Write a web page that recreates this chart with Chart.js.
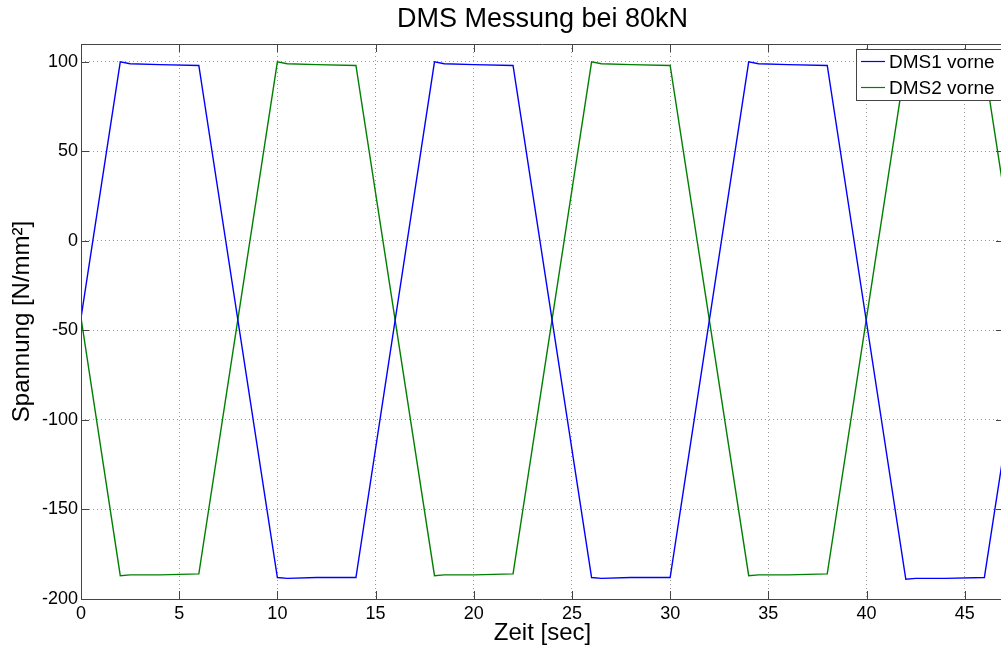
<!DOCTYPE html>
<html>
<head>
<meta charset="utf-8">
<script src="https://cdn.jsdelivr.net/npm/chart.js@4"></script>
<style>
  html, body { margin: 0; padding: 0; background: #fff; overflow: hidden; }
  #wrap { width: 1004px; height: 650px; }
</style>
</head>
<body>
<div id="wrap"><canvas id="myChart" width="1004" height="650"></canvas></div>
<script>
// Zeit in Sekunden
const zeit = [0, 2, 2.5, 4, 6, 10, 10.5, 12, 14, 18, 18.5, 20, 22, 26, 26.5, 28, 30, 34, 34.5, 36, 38, 42, 42.5, 44, 46, 46.9];
// Spannung in N/mm²
const dms1 = [-43, 100, 99, 98.5, 98, -188, -188.5, -188, -188, 100, 99, 98.5, 98, -188, -188.5, -188, -188, 100, 99, 98.5, 98, -189, -188.5, -188.5, -188, -124];
const dms2 = [-43, -187, -186.5, -186.5, -186, 100, 99, 98.5, 98, -187, -186.5, -186.5, -186, 100, 99, 98.5, 98, -187, -186.5, -186.5, -186, 100, 99, 98.5, 98, 34];
const xTicks = [0, 5, 10, 15, 20, 25, 30, 35, 40, 45];
const yTicks = [-200, -150, -100, -50, 0, 50, 100];
const titel = 'DMS Messung bei 80kN';

const schrift = 'Liberation Sans, Arial, Helvetica, sans-serif';

// Titel über der Achsenfläche, Rahmen, Ticks nach innen und Legende im MATLAB-Stil
const matlabRahmen = {
    id: 'matlabRahmen',
    afterDraw(chart) {
        const ctx = chart.ctx;
        const a = chart.chartArea;
        const sx = chart.scales.x, sy = chart.scales.y;
        ctx.save();

        ctx.fillStyle = '#000';
        ctx.font = '27px ' + schrift;
        ctx.textAlign = 'center';
        ctx.textBaseline = 'middle';
        ctx.fillText(titel, (a.left + a.right) / 2, 20);
        ctx.textAlign = 'left';

        ctx.strokeStyle = '#444';
        ctx.lineWidth = 1;
        ctx.beginPath();
        ctx.rect(Math.round(a.left) + 0.5, Math.round(a.top) + 0.5, Math.round(a.right - a.left) - 1, Math.round(a.bottom - a.top));
        const tl = 8;
        xTicks.forEach(v => {
            const px = Math.round(sx.getPixelForValue(v)) + 0.5;
            ctx.moveTo(px, a.bottom); ctx.lineTo(px, a.bottom - tl);
            ctx.moveTo(px, a.top); ctx.lineTo(px, a.top + tl);
        });
        yTicks.forEach(v => {
            const py = Math.round(sy.getPixelForValue(v)) + 0.5;
            ctx.moveTo(a.left, py); ctx.lineTo(a.left + tl, py);
            ctx.moveTo(a.right, py); ctx.lineTo(a.right - tl, py);
        });
        ctx.stroke();

        // Legende
        const lx = a.right - 148, ly = a.top + 5, lw = 147, lh = 51;
        ctx.fillStyle = '#fff';
        ctx.fillRect(lx, ly, lw, lh);
        ctx.strokeStyle = '#444';
        ctx.strokeRect(lx + 0.5, ly + 0.5, lw, lh);
        ctx.font = '19px ' + schrift;
        ctx.textBaseline = 'middle';
        ctx.fillStyle = '#000';
        chart.data.datasets.forEach((ds, i) => {
            const y = ly + 12.5 + i * 26;
            ctx.strokeStyle = ds.borderColor;
            ctx.lineWidth = 1.2;
            ctx.beginPath();
            ctx.moveTo(lx + 5, y); ctx.lineTo(lx + 29, y);
            ctx.stroke();
            ctx.fillText(ds.label, lx + 33, y + 1);
        });
        ctx.restore();
    }
};

const ctx = document.getElementById('myChart').getContext('2d');
const myChart = new Chart(ctx, {
    type: 'line',
    data: {
        datasets: [{
            label: 'DMS1 vorne',
            data: zeit.map((t, i) => ({ x: t, y: dms1[i] })),
            borderColor: '#0000ff',
            borderWidth: 1.4,
            pointRadius: 0,
            tension: 0
        }, {
            label: 'DMS2 vorne',
            data: zeit.map((t, i) => ({ x: t, y: dms2[i] })),
            borderColor: '#008000',
            borderWidth: 1.4,
            pointRadius: 0,
            tension: 0
        }]
    },
    options: {
        responsive: false,
        animation: false,
        devicePixelRatio: 1,
        layout: { padding: { top: 44 } },
        plugins: {
            legend: { display: false },
            tooltip: { enabled: false },
            title: { display: false }
        },
        scales: {
            x: {
                type: 'linear',
                min: 0,
                max: 47,
                afterBuildTicks: s => { s.ticks = xTicks.map(v => ({ value: v })); },
                afterFit: s => { s.height = 51; },
                grid: { color: 'rgba(0,0,0,0.4)', drawTicks: false },
                border: { display: false, dash: [1, 3] },
                ticks: { color: '#000', font: { family: schrift, size: 18 }, padding: 4, maxRotation: 0 },
                title: {
                    display: true,
                    text: 'Zeit [sec]',
                    color: '#000',
                    font: { family: schrift, size: 24, lineHeight: 1.2 },
                    padding: { top: 0, bottom: 2 }
                }
            },
            y: {
                min: -200,
                max: 110,
                afterBuildTicks: s => { s.ticks = yTicks.map(v => ({ value: v })); },
                afterFit: s => { s.width = 81; },
                grid: { color: 'rgba(0,0,0,0.4)', drawTicks: false },
                border: { display: false, dash: [1, 3] },
                ticks: { color: '#000', font: { family: schrift, size: 18 }, padding: 3 },
                title: {
                    display: true,
                    text: 'Spannung [N/mm²]',
                    color: '#000',
                    font: { family: schrift, size: 24, lineHeight: 1.2 },
                    padding: { top: 8, bottom: 0 }
                }
            }
        }
    },
    plugins: [matlabRahmen]
});
</script>
</body>
</html>
